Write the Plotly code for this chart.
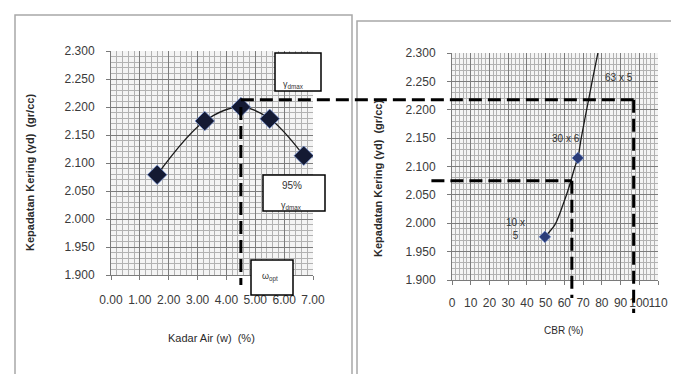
import plotly.graph_objects as go

W, H = 679, 374

# ---------------- data: left chart (compaction curve) ----------------
kadar_air = [1.60, 3.25, 4.50, 5.50, 6.68]
gamma_d = [2.079, 2.175, 2.200, 2.179, 2.113]
left_x_ticks = [0, 1, 2, 3, 4, 5, 6, 7]
left_x_labels = ["0.00", "1.00", "2.00", "3.00", "4.00", "5.00", "6.00", "7.00"]
y_ticks = [1.90, 1.95, 2.00, 2.05, 2.10, 2.15, 2.20, 2.25, 2.30]
y_labels = ["1.900", "1.950", "2.000", "2.050", "2.100", "2.150", "2.200", "2.250", "2.300"]

# ---------------- data: right chart (CBR vs density) ----------------
cbr_points = [49.6, 67.2]
gamma_cbr_points = [1.976, 2.115]
cbr_curve = [49.6, 54.9, 59.2, 62.8, 65.4, 67.2, 69.0, 72.9, 75.2, 77.9]
gamma_cbr_curve = [1.976, 1.997, 2.032, 2.067, 2.097, 2.115, 2.150, 2.217, 2.256, 2.300]
right_x_ticks = [0, 10, 20, 30, 40, 50, 60, 70, 80, 90, 100, 110]
right_x_labels = [str(v) for v in right_x_ticks]
cbr_label_text = ["10 x<br>5", "30 x 6", "63 x 5"]
cbr_label_x = [34, 61, 89]
cbr_label_y = [1.990, 2.150, 2.256]

# ---------------- reference (dashed) values ----------------
w_opt = 4.5
gamma_dmax_line = 2.213
gamma_95_line = 2.075
cbr_at_95 = 64
cbr_at_max = 97
cbr_line_start = -11

# ---------------- layout geometry ----------------
LX = [103 / W, 305 / W]
LY = [1 - 267 / H, 1 - 43 / H]
RX = [444 / W, 650 / W]
RY = [1 - 272 / H, 1 - 45 / H]
L_XR = [0, 7]
YR = [1.9, 2.3]
R_XR = [0, 110]


def lin(v, r, d):
    return d[0] + (v - r[0]) / (r[1] - r[0]) * (d[1] - d[0])


def px(x):
    return x / W


def py(y):
    return 1 - y / H


FONT = "Liberation Sans"
TICKC = "#3a3a3a"

fig = go.Figure()

fig.add_trace(go.Scatter(
    x=kadar_air, y=gamma_d, mode="lines", line=dict(color="#1a1a1a", width=1.3, shape="spline", smoothing=1.0),
    xaxis="x", yaxis="y", hoverinfo="skip", showlegend=False))
fig.add_trace(go.Scatter(
    x=kadar_air, y=gamma_d, mode="markers",
    marker=dict(symbol="diamond", size=15, color="#141a33", line=dict(color="rgba(120,150,220,0.7)", width=1)),
    xaxis="x", yaxis="y", showlegend=False))

fig.add_trace(go.Scatter(
    x=cbr_curve, y=gamma_cbr_curve, mode="lines", line=dict(color="#1a1a1a", width=1.3, shape="spline", smoothing=0.8),
    xaxis="x2", yaxis="y2", hoverinfo="skip", showlegend=False))
fig.add_trace(go.Scatter(
    x=cbr_points, y=gamma_cbr_points, mode="markers",
    marker=dict(symbol="diamond", size=9, color="#2a3c78", line=dict(color="rgba(120,150,220,0.6)", width=1)),
    xaxis="x2", yaxis="y2", showlegend=False))

axis_common = dict(
    showline=True, linecolor="#7a7a7a", linewidth=1, ticks="outside", ticklen=4, tickcolor="#7a7a7a",
    showgrid=True, gridcolor="#7c7c7c", gridwidth=1, zeroline=False, automargin=False,
    tickfont=dict(family=FONT, size=12, color=TICKC), fixedrange=True, tickangle=0,
)
MINC = "#b2b2b2"

fig.update_layout(
    width=W, height=H, margin=dict(l=0, r=0, t=0, b=0),
    paper_bgcolor="white", plot_bgcolor="#f4f4f4", showlegend=False,
    xaxis=dict(domain=LX, range=L_XR, anchor="y", tickvals=left_x_ticks, ticktext=left_x_labels,
               minor=dict(dtick=0.2, showgrid=True, gridcolor=MINC, gridwidth=1), ticklabelstandoff=10,
               **axis_common),
    yaxis=dict(domain=LY, range=YR, anchor="x", tickvals=y_ticks, ticktext=y_labels,
               minor=dict(dtick=0.01, showgrid=True, gridcolor=MINC, gridwidth=1), ticklabelstandoff=9,
               **axis_common),
    xaxis2=dict(domain=RX, range=R_XR, anchor="y2", tickvals=right_x_ticks, ticktext=right_x_labels,
                minor=dict(dtick=2, showgrid=True, gridcolor=MINC, gridwidth=1), ticklabelstandoff=8,
                **axis_common),
    yaxis2=dict(domain=RY, range=YR, anchor="x2", tickvals=y_ticks, ticktext=y_labels,
                minor=dict(dtick=0.01, showgrid=True, gridcolor=MINC, gridwidth=1), ticklabelstandoff=9,
                **axis_common),
)

shapes = []
frame = dict(color="#a8a8a8", width=1.5)
shapes.append(dict(type="rect", xref="paper", yref="paper", x0=px(7), x1=px(344), y0=py(372), y1=py(7),
                   line=frame, fillcolor="rgba(0,0,0,0)", layer="below"))
shapes.append(dict(type="rect", xref="paper", yref="paper", x0=px(349), x1=px(677), y0=py(380), y1=py(13),
                   line=frame, fillcolor="rgba(0,0,0,0)", layer="below"))

dash = dict(color="black", width=3, dash="13px,6px")
lx_opt = lin(w_opt, L_XR, LX)
ly_max = lin(gamma_dmax_line, YR, LY)
rx_max = lin(cbr_at_max, R_XR, RX)
rx_95 = lin(cbr_at_95, R_XR, RX)
ry_95 = lin(gamma_95_line, YR, RY)
shapes.append(dict(type="line", xref="paper", yref="paper", x0=lx_opt, x1=lx_opt,
                   y0=lin(max(gamma_d), YR, LY), y1=LY[0] - 10 / H, line=dash))
shapes.append(dict(type="line", xref="paper", yref="paper", x0=lx_opt, x1=rx_max,
                   y0=ly_max, y1=ly_max, line=dash))
shapes.append(dict(type="line", xref="paper", yref="paper", x0=rx_max, x1=rx_max,
                   y0=ly_max, y1=RY[0] - 33 / H, line=dash))
shapes.append(dict(type="line", xref="paper", yref="paper", x0=lin(cbr_line_start, R_XR, RX), x1=rx_95,
                   y0=ry_95, y1=ry_95, line=dash))
shapes.append(dict(type="line", xref="paper", yref="paper", x0=rx_95, x1=rx_95,
                   y0=ry_95, y1=RY[0] - 18 / H, line=dash))

box_line = dict(color="black", width=1.5)
for (x0, y0, x1, y1) in [(267, 45, 313, 83), (255, 167, 317, 203), (243, 252, 285, 287)]:
    shapes.append(dict(type="rect", xref="paper", yref="paper", x0=px(x0), x1=px(x1), y0=py(y1), y1=py(y0),
                       line=box_line, fillcolor="white", layer="above"))
fig.update_layout(shapes=shapes)

ann = []
small = dict(family=FONT, size=9, color="#333")
ann.append(dict(x=px(285), y=py(76), text="γ<sub>dmax</sub>", font=small))
ann.append(dict(x=px(284), y=py(177), text="95%", font=dict(family=FONT, size=10, color="#333")))
ann.append(dict(x=px(283), y=py(197), text="γ<sub>dmax</sub>", font=small))
ann.append(dict(x=px(262), y=py(269), text="ω<sub>opt</sub>", font=small))
for t, x, y in zip(cbr_label_text, cbr_label_x, cbr_label_y):
    ann.append(dict(x=x, y=y, xref="x2", yref="y2", text=t, font=dict(family=FONT, size=10, color="#333")))

title_font = dict(family=FONT, size=11, color="#2a2a2a")
ann.append(dict(x=px(22), y=py(165), text="<b>Kepadatan Kering (γd)  (gr/cc)</b>", textangle=-90, font=title_font))
ann.append(dict(x=px(370), y=py(170), text="<b>Kepadatan Kering (γd)  (gr/cc)</b>", textangle=-90, font=title_font))
ann.append(dict(x=px(203), y=py(330), text="Kadar Air (w)  (%)", font=dict(family=FONT, size=11, color="#2a2a2a")))
ann.append(dict(x=px(555), y=py(322), text="CBR (%)", font=dict(family=FONT, size=10, color="#2a2a2a")))
for a in ann:
    a.setdefault("xref", "paper")
    a.setdefault("yref", "paper")
    a["showarrow"] = False
    a["xanchor"] = "center"
    a["yanchor"] = "middle"
fig.update_layout(annotations=ann)

fig.write_html("out.html")
